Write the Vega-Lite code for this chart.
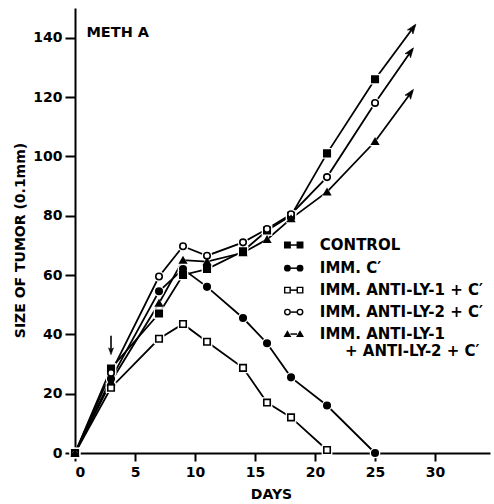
{
  "$schema": "https://vega.github.io/schema/vega-lite/v6.json",
  "width": 415,
  "height": 445,
  "autosize": "none",
  "padding": {"left": 75, "top": 8, "right": 4, "bottom": 51},
  "background": "white",
  "config": {
    "view": {"stroke": null},
    "font": "DejaVu Sans",
    "axis": {
      "grid": false,
      "domainColor": "black",
      "domainWidth": 2,
      "tickColor": "black",
      "tickWidth": 2,
      "tickSize": 9,
      "labelFont": "DejaVu Sans",
      "labelFontWeight": "bold",
      "labelFontSize": 14,
      "labelColor": "black",
      "titleFont": "DejaVu Sans",
      "titleFontWeight": "bold",
      "titleFontSize": 14,
      "titleColor": "black"
    }
  },
  "datasets": {
    "pts": [
      {"series": "Control", "kind": "obs", "day": 0, "size": 0},
      {"series": "Control", "kind": "obs", "day": 3, "size": 28.5},
      {"series": "Control", "kind": "obs", "day": 7, "size": 47},
      {"series": "Control", "kind": "obs", "day": 9, "size": 60},
      {"series": "Control", "kind": "obs", "day": 11, "size": 62},
      {"series": "Control", "kind": "obs", "day": 14, "size": 68},
      {"series": "Control", "kind": "obs", "day": 16, "size": 75},
      {"series": "Control", "kind": "obs", "day": 18, "size": 80},
      {"series": "Control", "kind": "obs", "day": 21, "size": 101},
      {"series": "Control", "kind": "obs", "day": 25, "size": 126},
      {"series": "Control", "kind": "tip", "day": 28.3, "size": 144},
      {"series": "ImmC", "kind": "obs", "day": 0, "size": 0},
      {"series": "ImmC", "kind": "obs", "day": 3, "size": 25},
      {"series": "ImmC", "kind": "obs", "day": 7, "size": 54.5},
      {"series": "ImmC", "kind": "obs", "day": 9, "size": 62},
      {"series": "ImmC", "kind": "obs", "day": 11, "size": 56},
      {"series": "ImmC", "kind": "obs", "day": 14, "size": 45.5},
      {"series": "ImmC", "kind": "obs", "day": 16, "size": 37},
      {"series": "ImmC", "kind": "obs", "day": 18, "size": 25.5},
      {"series": "ImmC", "kind": "obs", "day": 21, "size": 16},
      {"series": "ImmC", "kind": "obs", "day": 25, "size": 0},
      {"series": "LY1", "kind": "obs", "day": 0, "size": 0},
      {"series": "LY1", "kind": "obs", "day": 3, "size": 22},
      {"series": "LY1", "kind": "obs", "day": 7, "size": 38.5},
      {"series": "LY1", "kind": "obs", "day": 9, "size": 43.5},
      {"series": "LY1", "kind": "obs", "day": 11, "size": 37.5},
      {"series": "LY1", "kind": "obs", "day": 14, "size": 28.7},
      {"series": "LY1", "kind": "obs", "day": 16, "size": 17},
      {"series": "LY1", "kind": "obs", "day": 18, "size": 12},
      {"series": "LY1", "kind": "obs", "day": 21, "size": 1},
      {"series": "LY2", "kind": "obs", "day": 0, "size": 0},
      {"series": "LY2", "kind": "obs", "day": 3, "size": 27},
      {"series": "LY2", "kind": "obs", "day": 7, "size": 59.5},
      {"series": "LY2", "kind": "obs", "day": 9, "size": 69.7},
      {"series": "LY2", "kind": "obs", "day": 11, "size": 66.5},
      {"series": "LY2", "kind": "obs", "day": 14, "size": 71},
      {"series": "LY2", "kind": "obs", "day": 16, "size": 75.5},
      {"series": "LY2", "kind": "obs", "day": 18, "size": 80.5},
      {"series": "LY2", "kind": "obs", "day": 21, "size": 93},
      {"series": "LY2", "kind": "obs", "day": 25, "size": 118},
      {"series": "LY2", "kind": "tip", "day": 28.1, "size": 136},
      {"series": "LY12", "kind": "obs", "day": 0, "size": 0},
      {"series": "LY12", "kind": "obs", "day": 3, "size": 24},
      {"series": "LY12", "kind": "obs", "day": 7, "size": 50.5},
      {"series": "LY12", "kind": "obs", "day": 9, "size": 65},
      {"series": "LY12", "kind": "obs", "day": 11, "size": 64.5},
      {"series": "LY12", "kind": "obs", "day": 14, "size": 67.5},
      {"series": "LY12", "kind": "obs", "day": 16, "size": 72},
      {"series": "LY12", "kind": "obs", "day": 18, "size": 79},
      {"series": "LY12", "kind": "obs", "day": 21, "size": 88},
      {"series": "LY12", "kind": "obs", "day": 25, "size": 105},
      {"series": "LY12", "kind": "tip", "day": 28.1, "size": 122}
    ],
    "legend": [
      {"series": "Control", "label": "CONTROL", "ly": 70.1},
      {"series": "ImmC", "label": "IMM. C′", "ly": 62.3},
      {"series": "LY1", "label": "IMM. ANTI-LY-1 + C′", "ly": 54.9},
      {"series": "LY2", "label": "IMM. ANTI-LY-2 + C′", "ly": 47.5},
      {"series": "LY12", "label": "IMM. ANTI-LY-1", "ly": 40.1}
    ],
    "one": [{"k": 1}]
  },
  "layer": [
    {
      "data": {"name": "pts"},
      "mark": {"type": "line", "color": "black", "strokeWidth": 1.8},
      "encoding": {
        "x": {
          "field": "day", "type": "quantitative",
          "scale": {"domain": [0, 34.58], "nice": false, "zero": true},
          "axis": {"values": [0, 5, 10, 15, 20, 25, 30], "title": "DAYS", "tickSize": 8, "labelPadding": 4, "titleX": 196, "titleY": 45, "titleBaseline": "alphabetic", "titleAnchor": "start", "titleAlign": "center"}
        },
        "y": {
          "field": "size", "type": "quantitative",
          "scale": {"domain": [0, 150], "nice": false, "zero": true},
          "axis": {"values": [0, 20, 40, 60, 80, 100, 120, 140], "title": "SIZE OF TUMOR (0.1mm)", "tickSize": 10, "labelPadding": 3, "titleX": -55, "titleY": 232, "titleAnchor": "start", "titleAlign": "center", "titleBaseline": "middle"}
        },
        "detail": {"field": "series"},
        "order": {"field": "day", "type": "quantitative"}
      }
    },
    {
      "data": {"name": "pts"},
      "transform": [{"filter": "datum.kind == 'obs'"}],
      "mark": {"type": "point", "filled": true, "color": "white", "size": 115, "opacity": 1},
      "encoding": {
        "x": {"field": "day", "type": "quantitative"},
        "y": {"field": "size", "type": "quantitative"},
        "shape": {"field": "series", "type": "nominal", "legend": null,
          "scale": {"domain": ["Control", "ImmC", "LY1", "LY2", "LY12"], "range": ["square", "circle", "square", "circle", "triangle-up"]}}
      }
    },
    {
      "data": {"name": "pts"},
      "transform": [{"filter": "datum.kind == 'obs'"}],
      "mark": {"type": "point", "stroke": "black", "strokeWidth": 1.6, "size": 42, "opacity": 1},
      "encoding": {
        "x": {"field": "day", "type": "quantitative"},
        "y": {"field": "size", "type": "quantitative"},
        "shape": {"field": "series", "type": "nominal", "legend": null},
        "fill": {"field": "series", "type": "nominal", "legend": null,
          "scale": {"domain": ["Control", "ImmC", "LY1", "LY2", "LY12"], "range": ["black", "black", "white", "white", "black"]}}
      }
    },
    {
      "data": {"name": "pts"},
      "transform": [{"filter": "datum.kind == 'tip'"}],
      "mark": {"type": "point", "shape": "M0,-0.3L0.5,1.1L0,0.75L-0.5,1.1Z", "filled": true, "fill": "black", "stroke": "black", "strokeWidth": 0.6, "size": 190, "angle": 36, "opacity": 1},
      "encoding": {
        "x": {"field": "day", "type": "quantitative"},
        "y": {"field": "size", "type": "quantitative"}
      }
    },
    {
      "data": {"name": "one"},
      "mark": {"type": "rule", "color": "black", "strokeWidth": 1.6},
      "encoding": {
        "x": {"datum": 3},
        "y": {"datum": 39.5},
        "y2": {"datum": 35}
      }
    },
    {
      "data": {"name": "one"},
      "mark": {"type": "point", "shape": "M0,-0.3L0.5,1.1L0,0.75L-0.5,1.1Z", "filled": true, "fill": "black", "stroke": "black", "strokeWidth": 0.5, "size": 100, "angle": 180, "opacity": 1},
      "encoding": {
        "x": {"datum": 3},
        "y": {"datum": 33.6}
      }
    },
    {
      "data": {"name": "one"},
      "mark": {"type": "text", "text": "METH A", "align": "left", "baseline": "middle", "fontWeight": "bold", "fontSize": 14.5, "font": "DejaVu Sans", "color": "black"},
      "encoding": {
        "x": {"datum": 0.95},
        "y": {"datum": 141.5}
      }
    },
    {
      "data": {"name": "legend"},
      "mark": {"type": "rule", "color": "black", "strokeWidth": 1.5},
      "encoding": {
        "x": {"datum": 17.95},
        "x2": {"datum": 18.5},
        "y": {"field": "ly", "type": "quantitative"}
      }
    },
    {
      "data": {"name": "legend"},
      "mark": {"type": "point", "stroke": "black", "strokeWidth": 1.4, "size": 30, "opacity": 1},
      "encoding": {
        "x": {"datum": 17.7},
        "y": {"field": "ly", "type": "quantitative"},
        "shape": {"field": "series", "type": "nominal", "legend": null},
        "fill": {"field": "series", "type": "nominal", "legend": null}
      }
    },
    {
      "data": {"name": "legend"},
      "mark": {"type": "point", "stroke": "black", "strokeWidth": 1.4, "size": 30, "opacity": 1},
      "encoding": {
        "x": {"datum": 18.75},
        "y": {"field": "ly", "type": "quantitative"},
        "shape": {"field": "series", "type": "nominal", "legend": null},
        "fill": {"field": "series", "type": "nominal", "legend": null}
      }
    },
    {
      "data": {"name": "legend"},
      "mark": {"type": "text", "align": "left", "baseline": "middle", "fontWeight": "bold", "fontSize": 15, "font": "DejaVu Sans", "color": "black"},
      "encoding": {
        "x": {"datum": 20.4},
        "y": {"field": "ly", "type": "quantitative"},
        "text": {"field": "label"}
      }
    },
    {
      "data": {"name": "one"},
      "mark": {"type": "text", "text": "+ ANTI-LY-2 + C′", "align": "left", "baseline": "middle", "fontWeight": "bold", "fontSize": 15, "font": "DejaVu Sans", "color": "black"},
      "encoding": {
        "x": {"datum": 22.5},
        "y": {"datum": 34.3}
      }
    }
  ]
}
